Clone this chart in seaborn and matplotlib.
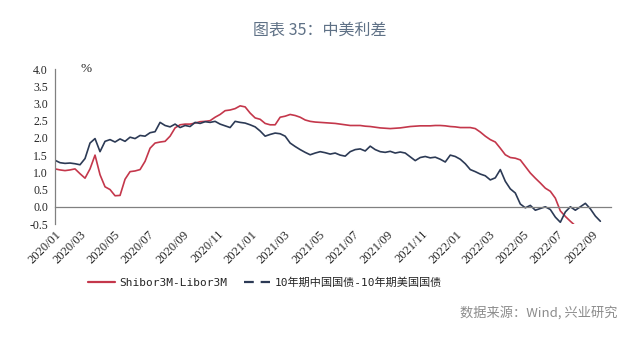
import numpy as np
import pandas as pd
import matplotlib
matplotlib.use("Agg")
import matplotlib.pyplot as plt
import matplotlib.dates as mdates
from matplotlib.lines import Line2D
import seaborn as sns

# ---- data -------------------------------------------------------------
start_date = "2020-01-01"
end_date = "2022-09-01"
n_obs = 110

shibor_libor = [
    1.10, 1.07, 1.05, 1.07, 1.10, 0.96, 0.83, 1.10, 1.50, 0.93,
    0.58, 0.50, 0.32, 0.33, 0.80, 1.02, 1.04, 1.08, 1.32, 1.70,
    1.85, 1.88, 1.90, 2.05, 2.29, 2.38, 2.40, 2.40, 2.43, 2.47,
    2.48, 2.50, 2.60, 2.68, 2.79, 2.81, 2.85, 2.93, 2.90, 2.72,
    2.58, 2.54, 2.42, 2.38, 2.38, 2.60, 2.63, 2.68, 2.65, 2.60,
    2.52, 2.48, 2.46, 2.45, 2.44, 2.43, 2.42, 2.40, 2.38, 2.36,
    2.36, 2.36, 2.34, 2.33, 2.31, 2.29, 2.28, 2.27, 2.28, 2.29,
    2.31, 2.33, 2.34, 2.35, 2.35, 2.35, 2.36, 2.36, 2.35, 2.33,
    2.32, 2.30, 2.30, 2.30, 2.27, 2.17, 2.05, 1.95, 1.88, 1.70,
    1.51, 1.43, 1.41, 1.36, 1.17, 0.98, 0.83, 0.69, 0.54, 0.45,
    0.25, -0.12, -0.28, -0.42, -0.55, None, None, None, None, None,
]

cn_us_10y = [
    1.35, 1.28, 1.26, 1.27, 1.25, 1.22, 1.40, 1.85, 1.98, 1.60,
    1.90, 1.95, 1.88, 1.97, 1.90, 2.02, 1.98, 2.07, 2.05, 2.15,
    2.18, 2.45, 2.36, 2.32, 2.40, 2.30, 2.36, 2.33, 2.45, 2.42,
    2.47, 2.45, 2.48, 2.40, 2.35, 2.30, 2.48, 2.45, 2.43, 2.38,
    2.32, 2.20, 2.05, 2.10, 2.14, 2.12, 2.05, 1.85, 1.75, 1.66,
    1.58, 1.51, 1.56, 1.60, 1.57, 1.53, 1.56, 1.50, 1.47, 1.60,
    1.66, 1.68, 1.62, 1.76, 1.66, 1.60, 1.58, 1.61, 1.56, 1.59,
    1.56, 1.45, 1.34, 1.43, 1.46, 1.42, 1.44, 1.38, 1.30, 1.50,
    1.46, 1.38, 1.25, 1.08, 1.02, 0.95, 0.90, 0.78, 0.84, 1.08,
    0.74, 0.52, 0.40, 0.08, -0.03, 0.04, -0.10, -0.05, 0.00, -0.08,
    -0.30, -0.45, -0.15, 0.00, -0.10, 0.00, 0.10, -0.06, -0.27, -0.42,
]

series_names = ["Shibor3M-Libor3M", "10年期中国国债-10年期美国国债"]
y_ticks = [-0.5, 0.0, 0.5, 1.0, 1.5, 2.0, 2.5, 3.0, 3.5, 4.0]

dates = pd.date_range(start_date, end_date, periods=n_obs)
df = pd.DataFrame({
    "date": dates,
    series_names[0]: pd.to_numeric(pd.Series(shibor_libor), errors="coerce"),
    series_names[1]: pd.to_numeric(pd.Series(cn_us_10y), errors="coerce"),
})

# ---- style -------------------------------------------------------------
sns.set_style("white")
plt.rcParams["font.family"] = ["Liberation Serif", "Noto Sans CJK SC"]

RED = "#C4374B"
NAVY = "#2C3A55"
GREY = "#808080"

fig = plt.figure(figsize=(6.4, 3.49), dpi=100)
ax = fig.add_axes([55 / 640, 1 - 224 / 349, (611 - 55) / 640, (224 - 69) / 349])

sns.lineplot(data=df, x="date", y=series_names[0], ax=ax, color=RED,
             linewidth=1.2, legend=False)
sns.lineplot(data=df, x="date", y=series_names[1], ax=ax, color=NAVY,
             linewidth=1.2, legend=False)

ax.set_ylim(-0.5, 4.0)
ax.set_xlim(pd.Timestamp("2020-01-01"), pd.Timestamp("2022-09-20"))
ax.set_yticks(y_ticks)
ax.set_yticklabels([f"{v:.1f}" for v in y_ticks])
ax.set_xlabel("")
ax.set_ylabel("")

# axes frame: left spine only, x axis runs along the zero line
for side in ["top", "right"]:
    ax.spines[side].set_visible(False)
ax.spines["left"].set_color(GREY)
ax.spines["left"].set_linewidth(0.9)
ax.spines["bottom"].set_position(("data", 0))
ax.spines["bottom"].set_color(GREY)
ax.spines["bottom"].set_linewidth(0.9)

ax.xaxis.set_major_locator(mdates.MonthLocator(bymonth=[1, 3, 5, 7, 9, 11]))
ax.tick_params(axis="x", direction="out", length=4, width=0.9, color=GREY,
               labelbottom=False)
ax.tick_params(axis="y", direction="out", length=4, width=0.9, color=GREY,
               labelsize=8.5, pad=1)

# date labels sit below the plotting area
sec = ax.secondary_xaxis("bottom")
sec.xaxis.set_major_locator(mdates.MonthLocator(bymonth=[1, 3, 5, 7, 9, 11]))
sec.xaxis.set_major_formatter(mdates.DateFormatter("%Y/%m"))
sec.spines["bottom"].set_visible(False)
sec.tick_params(axis="x", length=0, labelsize=9, pad=3)
for lbl in sec.get_xticklabels():
    lbl.set_rotation(45)
    lbl.set_ha("right")
    lbl.set_rotation_mode("anchor")

ax.text(0.045, 1.0, "%", transform=ax.transAxes, fontsize=9.5,
        va="center", ha="left", family="Liberation Serif")

# title and source note
fig.text(0.5, 1 - 30 / 349, "图表 35：中美利差", ha="center", va="center",
         fontsize=11.5, color="#5F7186", family=["Noto Sans CJK SC"])
fig.text(618 / 640, 1 - 313 / 349, "数据来源：Wind, 兴业研究", ha="right",
         va="center", fontsize=9.5, color="#8C8C8C", family=["Noto Sans CJK SC"])

handles = [
    Line2D([0], [0], color=RED, linewidth=1.6),
    Line2D([0], [0], color=NAVY, linewidth=1.6, linestyle=(0, (4.4, 3.1))),
]
fig.legend(handles, series_names, loc="center", ncol=2, frameon=False,
           bbox_to_anchor=(265 / 640, 1 - 283 / 349), handlelength=2.4,
           columnspacing=1.5, handletextpad=0.4,
           prop={"family": ["DejaVu Sans Mono", "Noto Sans CJK SC"], "size": 8})

fig.savefig("out.png", dpi=100)
